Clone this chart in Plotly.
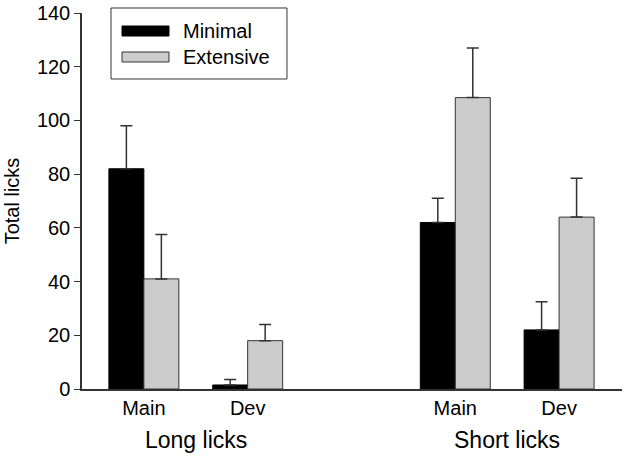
import plotly.graph_objects as go

# group positions on a numeric x axis (gap left between the two lick types)
x_pos = [1, 2, 4, 5]
x_labels = ["Main", "Dev", "Main", "Dev"]
groups = ["Long licks", "Short licks"]
group_pos = [1.5, 4.5]

minimal = [82, 1.5, 62, 22]
minimal_err = [16, 2, 9, 10.5]
extensive = [41, 18, 108.5, 64]
extensive_err = [16.5, 6, 18.5, 14.5]

bw = 0.337
font = "Liberation Sans, Arial, sans-serif"
ext_color = "#cccccc"

trace1 = go.Bar(
    x=x_pos, y=minimal, name="Minimal",
    width=bw, offset=-bw,
    marker=dict(color="black", line=dict(color="black", width=1)),
    error_y=dict(type="data", array=minimal_err, arrayminus=[0] * 4, symmetric=False,
                 color="#333333", thickness=1.5, width=6),
)
trace2 = go.Bar(
    x=x_pos, y=extensive, name="Extensive",
    width=bw, offset=0,
    marker=dict(color=ext_color, line=dict(color="#333333", width=1)),
    error_y=dict(type="data", array=extensive_err, arrayminus=[0] * 4, symmetric=False,
                 color="#333333", thickness=1.5, width=6),
)

fig = go.Figure([trace1, trace2])

fig.update_layout(
    width=626, height=461,
    margin=dict(l=82, r=4, t=13, b=72),
    plot_bgcolor="white", paper_bgcolor="white",
    font=dict(family=font, size=20, color="black"),
    barmode="overlay",
    showlegend=False,
)

fig.update_xaxes(
    range=[0.404, 5.606], tickvals=x_pos, ticktext=x_labels,
    showline=True, linecolor="#333333", linewidth=1.5,
    showgrid=False, zeroline=False, ticks="", ticklen=0,
    tickfont=dict(size=20), automargin=False,
)
fig.update_yaxes(
    range=[0, 140], dtick=20, title=dict(text="Total licks", font=dict(size=20), standoff=12),
    showline=True, linecolor="#333333", linewidth=1.5,
    showgrid=False, zeroline=False, ticks="outside", ticklen=6, tickcolor="#333333",
    tickfont=dict(size=20), automargin=False,
)

for g, p in zip(groups, group_pos):
    fig.add_annotation(x=p, y=-0.136, xref="x", yref="paper", text=g, showarrow=False,
                       yanchor="middle", font=dict(size=23))

# legend box drawn by hand so the swatches can be wide like the original
fig.add_shape(type="rect", xref="paper", yref="paper", x0=0.0537, x1=0.3796, y0=0.8245, y1=1.0133,
              line=dict(color="#333333", width=1), fillcolor="white", layer="below")
legend_items = [("Minimal", "black", "black", 0.9388, 0.9654, 0.952),
                ("Extensive", ext_color, "#333333", 0.8697, 0.8963, 0.883)]
for name, fill, edge, y0, y1, yt in legend_items:
    fig.add_shape(type="rect", xref="paper", yref="paper", x0=0.0741, x1=0.1611, y0=y0, y1=y1,
                  line=dict(color=edge, width=1), fillcolor=fill)
    fig.add_annotation(x=0.1833, y=yt, xref="paper", yref="paper", text=name, showarrow=False,
                       xanchor="left", yanchor="middle", font=dict(size=20))

# drop the browser's default body margin so the figure sits at the page corner
fig.write_html("out.html", config={"displayModeBar": False},
               post_script="document.body.style.margin = '0';")
